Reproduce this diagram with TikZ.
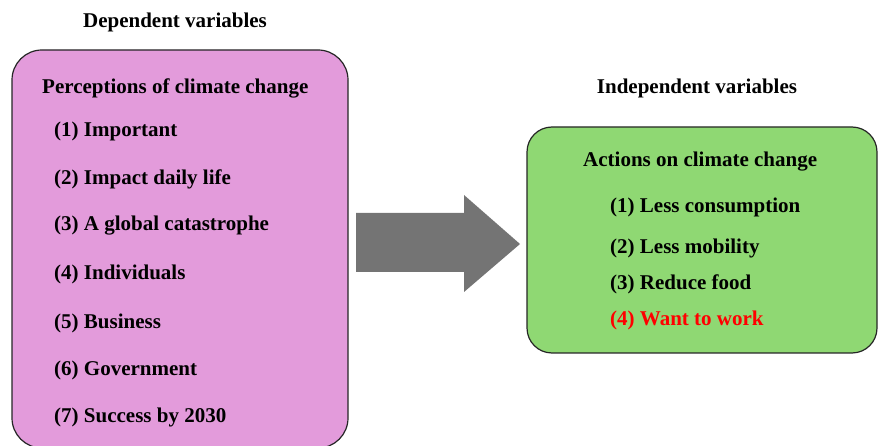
\documentclass[tikz,border=0pt]{standalone}
\usepackage{fontspec}
\setmainfont{Liberation Serif}
\usetikzlibrary{positioning}

\definecolor{perpink}{HTML}{E39BDB}
\definecolor{actgreen}{HTML}{8FD873}
\definecolor{arrowgray}{HTML}{747474}

\begin{document}
\begin{tikzpicture}[x=1pt, y=-1pt,
  varbox/.style={draw=black!85, line width=1.2pt, rounded corners=30pt},
  headtxt/.style={font=\fontsize{21}{24}\selectfont\bfseries},
  itemtxt/.style={anchor=west, inner sep=0pt, font=\fontsize{21}{24}\selectfont\bfseries}]
\useasboundingbox (0,0) rectangle (879,446);

% left box: dependent variables
\node[varbox, fill=perpink, minimum width=336pt, minimum height=398pt] (dep) at (180,249) {};
\node[headtxt] (deptitle) at (175,22) {Dependent variables};
\node[itemtxt] (perc) at (42,88) {Perceptions of climate change};
\node[itemtxt] (p1) at (54,131) {(1) Important};
\node[itemtxt] (p2) at (54,179) {(2) Impact daily life};
\node[itemtxt] (p3) at (54,226) {(3) A global catastrophe};
\node[itemtxt] (p4) at (54,274) {(4) Individuals};
\node[itemtxt] (p5) at (54,323) {(5) Business};
\node[itemtxt] (p6) at (54,370) {(6) Government};
\node[itemtxt] (p7) at (54,417) {(7) Success by 2030};

% right box: independent variables
\node[varbox, rounded corners=25pt, fill=actgreen, minimum width=350pt, minimum height=226pt] (ind) at (702,240) {};
\node[headtxt] (indtitle) at (697,88) {Independent variables};
\node[itemtxt] (act) at (583,162) {Actions on climate change};
\node[itemtxt] (a1) at (610,207) {(1) Less consumption};
\node[itemtxt] (a2) at (610,248) {(2) Less mobility};
\node[itemtxt] (a3) at (610,284) {(3) Reduce food};
\node[itemtxt, text=red] (a4) at (610,320) {(4) Want to work};

% block arrow
\fill[arrowgray] (356,213) -- (464,213) -- (464,195) -- (520,244)
  -- (464,292) -- (464,272) -- (356,272) -- cycle;
\end{tikzpicture}
\end{document}
